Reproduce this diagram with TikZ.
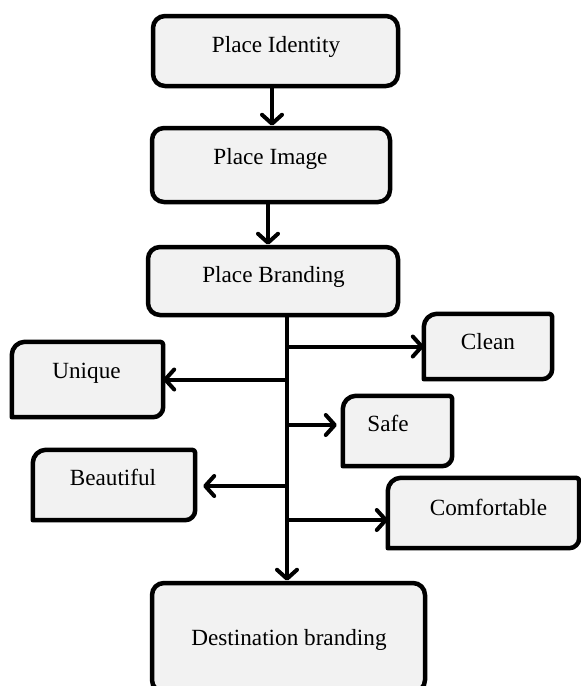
\documentclass[tikz,border=0pt]{standalone}
\usepackage{fontspec}
\setmainfont{Liberation Serif}
\usetikzlibrary{arrows.meta,calc}
\definecolor{boxfill}{HTML}{F2F2F2}
\tikzset{
  bigbox/.style={draw=black, line width=4.5pt, fill=boxfill, rounded corners=12pt, inner sep=0pt},
  diagbox/.style={inner sep=0pt},
  txt/.style={font=\fontsize{23.2}{28}\selectfont, inner sep=0pt, text height=16pt, text depth=5pt},
  arr/.style={line width=4pt, -{Straight Barb[length=9pt,width=20pt,round]}},
  outline/.style={line width=4.5pt, fill=boxfill, draw=black, line join=round}
}
\begin{document}
\begin{tikzpicture}[x=1pt,y=-1pt]
\useasboundingbox (0,0) rectangle (581,686);
\clip (0,0) rectangle (581,686);
% big boxes
\node[bigbox, minimum width=245pt, minimum height=70pt] (pid) at (275.5,51) {};
\node[bigbox, minimum width=238pt, minimum height=74pt] (pim) at (271,165) {};
\node[bigbox, minimum width=250pt, minimum height=68pt] (pb) at (273,281) {};
\node[bigbox, minimum width=273pt, minimum height=109pt] (dest) at (288.5,637.5) {};
% diagonal-corner boxes
\node[diagbox, minimum width=128pt, minimum height=65pt] (clean) at (488,346.5) {};
\node[diagbox, minimum width=151pt, minimum height=75pt] (unique) at (87.5,379.5) {};
\node[diagbox, minimum width=109pt, minimum height=70pt] (safe) at (397.5,431) {};
\node[diagbox, minimum width=162pt, minimum height=70pt] (beaut) at (114,485) {};
\node[diagbox, minimum width=191pt, minimum height=70pt] (comf) at (483.5,513) {};
\foreach \n in {clean,unique,safe,beaut,comf}{
  \path[outline]
    ([yshift=-13pt]\n.north west) .. controls ([yshift=-6pt]\n.north west) and ([xshift=6pt]\n.north west) .. ([xshift=13pt]\n.north west)
    -- ([xshift=-3pt]\n.north east) .. controls ([xshift=-1.3pt]\n.north east) and ([yshift=-1.3pt]\n.north east) .. ([yshift=-3pt]\n.north east)
    -- ([yshift=10pt]\n.south east) .. controls ([yshift=4.5pt]\n.south east) and ([xshift=-4.5pt]\n.south east) .. ([xshift=-10pt]\n.south east)
    -- (\n.south west) -- cycle;
}
% texts
\node[txt] (pidt) at (276,47.3) {Place Identity};
\node[txt] (pimt) at (270.5,159.3) {Place Image};
\node[txt] (pbt) at (273.5,277.3) {Place Branding};
\node[txt] (uniquet) at (86.5,372.8) {Unique};
\node[txt] (cleant) at (488,344.3) {Clean};
\node[txt] (safet) at (388,425.8) {Safe};
\node[txt] (beautt) at (113,480.3) {Beautiful};
\node[txt] (comft) at (488.5,509.8) {Comfortable};
\node[txt] (destt) at (289,640.3) {Destination branding};
% connectors
\coordinate (a1) at (272,0);
\coordinate (a2) at (268,0);
\coordinate (tx) at (287,0);
\coordinate (sy) at (0,425);
\coordinate (cy) at (0,520);
\coordinate (by) at (0,486);
\draw[arr] (pid.south -| a1) -- (pim.north -| a1);
\draw[arr] (pim.south -| a2) -- (pb.north -| a2);
\draw[arr] (pb.south -| tx) -- (dest.north -| tx);
\draw[arr] (tx |- clean.west) -- (clean.west);
\draw[arr] (tx |- unique.east) -- (unique.east);
\draw[arr, shorten >=6pt] (tx |- sy) -- (safe.west |- sy);
\draw[arr, shorten >=8pt] (tx |- by) -- (beaut.east |- by);
\draw[arr] (tx |- cy) -- (comf.west |- cy);
\end{tikzpicture}
\end{document}
